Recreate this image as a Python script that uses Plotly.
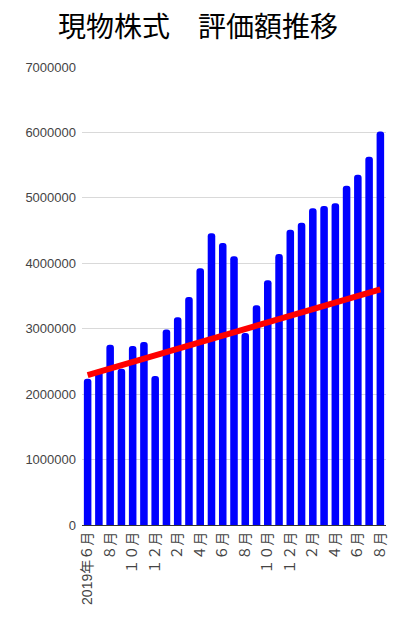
import plotly.graph_objects as go

months = ["2019-06", "2019-07", "2019-08", "2019-09", "2019-10", "2019-11", "2019-12",
          "2020-01", "2020-02", "2020-03", "2020-04", "2020-05", "2020-06", "2020-07",
          "2020-08", "2020-09", "2020-10", "2020-11", "2020-12", "2021-01", "2021-02",
          "2021-03", "2021-04", "2021-05", "2021-06", "2021-07", "2021-08"]
values = [2237000, 2374000, 2755000, 2389000, 2735000, 2796000, 2278000,
          2989000, 3177000, 3483000, 3925000, 4459000, 4311000, 4108000,
          2933000, 3360000, 3742000, 4143000, 4514000, 4621000, 4840000,
          4875000, 4916000, 5186000, 5353000, 5628000, 6014000]
tick_months = ["2019-06", "2019-08", "2019-10", "2019-12", "2020-02", "2020-04", "2020-06",
               "2020-08", "2020-10", "2020-12", "2021-02", "2021-04", "2021-06", "2021-08"]
tick_labels = ["2019年６月", "８月", "１０月", "１２月", "２月", "４月", "６月",
               "８月", "１０月", "１２月", "２月", "４月", "６月", "８月"]
trend_months = ["2019-06", "2021-08"]
trend_values = [2290000, 3600000]

fig = go.Figure()
fig.add_trace(go.Bar(x=months, y=values, marker=dict(color="#0000ff", cornerradius=4, line=dict(width=0)),
                     showlegend=False, hoverinfo="x+y"))
fig.add_trace(go.Scatter(x=trend_months, y=trend_values, mode="lines",
                         line=dict(color="#ff0000", width=6), showlegend=False))

fig.update_layout(
    width=396, height=625,
    margin=dict(l=82, r=10, t=67, b=100, autoexpand=False),
    paper_bgcolor="white", plot_bgcolor="white",
    bargap=0.33,
    font=dict(family="Liberation Sans, Arial, Noto Sans CJK JP", size=13, color="#444444"),
    title=dict(text="現物株式　評価額推移", x=0.5, xanchor="center", y=1 - 27 / 625, yanchor="middle",
               yref="container",
               font=dict(family="Noto Sans CJK JP", size=28, color="#000000")),
    xaxis=dict(type="category", categoryorder="array", categoryarray=months,
               tickmode="array", tickvals=tick_months, ticktext=tick_labels,
               tickangle=-90, showgrid=False, ticks="", showline=False,
               ticklabelstandoff=3, automargin=False,
               tickfont=dict(size=14, color="#444444")),
    yaxis=dict(range=[0, 7000000], dtick=1000000, tick0=0, tickformat="d",
               showgrid=True, gridcolor="#d9d9d9", gridwidth=1,
               zeroline=True, zerolinecolor="#333333", zerolinewidth=1,
               ticks="", ticklabelstandoff=5, automargin=False,
               tickfont=dict(size=13, color="#444444")),
)

fig.write_html("out.html", config={"displayModeBar": False},
               post_script="document.body.style.margin='0';document.body.style.overflow='hidden';")
